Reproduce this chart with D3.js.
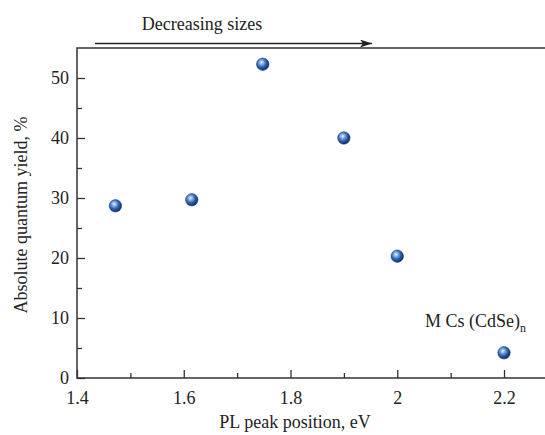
<!DOCTYPE html>
<html><head><meta charset="utf-8">
<script src="https://cdn.jsdelivr.net/npm/d3@7"></script>
<style>
body{margin:0;background:#fff;}
svg text{font-family:"Liberation Serif",Tinos,"Times New Roman",Times,"DejaVu Serif","Noto Serif",serif !important;fill:#222;}
</style></head>
<body><svg id="c" width="545" height="435"></svg>
<script>
const peakEV = [1.472, 1.615, 1.748, 1.900, 2.000, 2.200];
const quantumYield = [28.7, 29.7, 52.3, 40.0, 20.3, 4.2];
const xTicks = [1.4, 1.6, 1.8, 2.0, 2.2];
const xMinor = [1.5, 1.7, 1.9, 2.1];
const yTicks = [0, 10, 20, 30, 40, 50];
const yMinor = [5, 15, 25, 35, 45];
const xLabel = "PL peak position, eV";
const yLabel = "Absolute quantum yield, %";
const arrowLabel = "Decreasing sizes";

const svg = d3.select("#c");
const x = d3.scaleLinear().domain([1.4, 2.3]).range([77, 557.4]);
const y = d3.scaleLinear().domain([0, 55]).range([378, 48]);

const defs = svg.append("defs");
const g = defs.append("radialGradient").attr("id","ball").attr("cx","0.4").attr("cy","0.38").attr("r","0.62").attr("fx","0.4").attr("fy","0.35");
g.append("stop").attr("offset","0").attr("stop-color","#f4f8ff");
g.append("stop").attr("offset","0.25").attr("stop-color","#8fb2e6");
g.append("stop").attr("offset","0.6").attr("stop-color","#2d63b3");
g.append("stop").attr("offset","1").attr("stop-color","#0f2d66");
const mk = defs.append("marker").attr("id","arr").attr("viewBox","0 0 12 8").attr("refX","12").attr("refY","4")
  .attr("markerWidth","12").attr("markerHeight","8").attr("markerUnits","userSpaceOnUse").attr("orient","auto");
mk.append("path").attr("d","M0,0 L12,4 L0,8 L3,4 Z").attr("fill","#222");

const axisCol = "#333";
const serif = '"Liberation Serif", Tinos, "Times New Roman", Times, "DejaVu Serif", serif';
svg.append("rect").attr("x", x(1.4)).attr("y", y(55)).attr("width", x(2.3)-x(1.4)).attr("height", y(0)-y(55))
  .attr("fill","none").attr("stroke",axisCol).attr("stroke-width",1.5);

function style(sel){ sel.attr("font-family", serif); sel.select(".domain").remove();
  sel.selectAll("line").attr("stroke",axisCol).attr("stroke-width",1.3);
  sel.selectAll("text").attr("font-size",18).attr("fill","#222"); }

svg.append("g").attr("transform",`translate(0,${y(0)})`)
  .call(d3.axisBottom(x).tickValues(xTicks).tickSize(-8).tickPadding(13).tickFormat(d=>String(+d.toFixed(1)))).call(style);
svg.append("g").attr("transform",`translate(0,${y(0)})`)
  .call(d3.axisBottom(x).tickValues(xMinor).tickSize(-5).tickFormat("")).call(style);
svg.append("g").attr("transform",`translate(${x(1.4)},0)`)
  .call(d3.axisLeft(y).tickValues(yTicks).tickSize(-8).tickPadding(8)).call(style);
svg.append("g").attr("transform",`translate(${x(1.4)},0)`)
  .call(d3.axisLeft(y).tickValues(yMinor).tickSize(-5).tickFormat("")).call(style);

svg.append("g").selectAll("circle").data(peakEV).join("circle")
  .attr("cx",(d)=>x(d)).attr("cy",(d,i)=>y(quantumYield[i])).attr("r",6.2)
  .attr("fill","url(#ball)").attr("stroke","#1a3f80").attr("stroke-width",0.6);

svg.append("text").attr("font-family",serif).attr("x",295).attr("y",428).attr("text-anchor","middle").attr("font-size",18).text(xLabel);
svg.append("text").attr("font-family",serif).attr("transform","translate(27,215) rotate(-90)").attr("text-anchor","middle").attr("font-size",18).text(yLabel);

svg.append("line").attr("x1",95).attr("x2",372).attr("y1",43.5).attr("y2",43.5)
  .attr("stroke","#222").attr("stroke-width",1.6).attr("marker-end","url(#arr)");
svg.append("text").attr("font-family",serif).attr("x",202).attr("y",30).attr("text-anchor","middle").attr("font-size",18).text(arrowLabel);

const t = svg.append("text").attr("font-family",serif).attr("x",425).attr("y",327).attr("font-size",18);
t.append("tspan").text("M Cs (CdSe)");
t.append("tspan").attr("font-size",12).attr("dy",5).text("n");
</script></body></html>
